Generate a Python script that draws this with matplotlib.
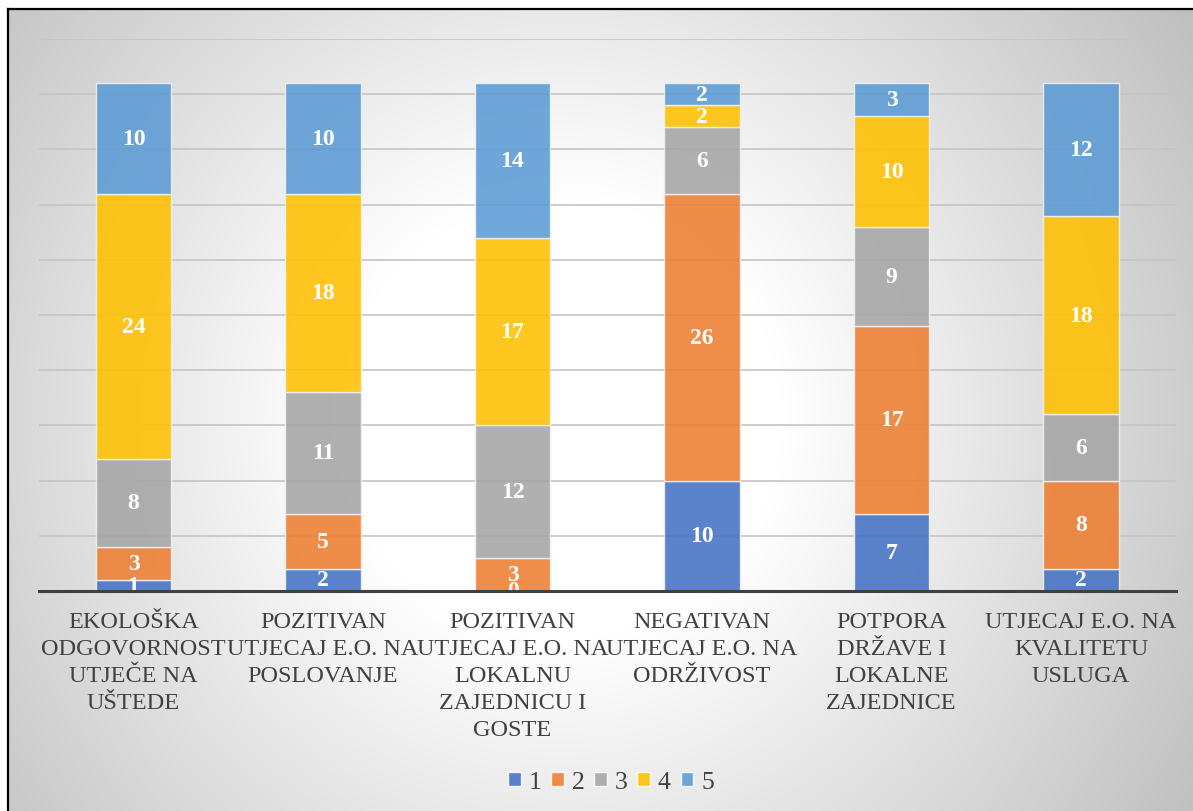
import numpy as np
import matplotlib.pyplot as plt
import matplotlib.patches as patches

plt.rcParams['font.family'] = ['Liberation Serif', 'DejaVu Serif']

# podaci
categories = [
    'EKOLOŠKA\nODGOVORNOST\nUTJEČE NA\nUŠTEDE',
    'POZITIVAN\nUTJECAJ E.O. NA\nPOSLOVANJE',
    'POZITIVAN\nUTJECAJ E.O. NA\nLOKALNU\nZAJEDNICU I\nGOSTE',
    'NEGATIVAN\nUTJECAJ E.O. NA\nODRŽIVOST',
    'POTPORA\nDRŽAVE I\nLOKALNE\nZAJEDNICE',
    'UTJECAJ E.O. NA\nKVALITETU\nUSLUGA',
]
levels = ['1', '2', '3', '4', '5']
s1 = [1, 2, 0, 10, 7, 2]
s2 = [3, 5, 3, 26, 17, 8]
s3 = [8, 11, 12, 6, 9, 6]
s4 = [24, 18, 17, 2, 10, 18]
s5 = [10, 10, 14, 2, 3, 12]
series = [s1, s2, s3, s4, s5]
colors = ['#4472C4', '#ED7D31', '#A5A5A5', '#FFC000', '#5B9BD5']

W, H = 1193, 812
fig = plt.figure(figsize=(W / 100, H / 100), dpi=100)

# pozadina s radijalnim prijelazom
bg = fig.add_axes([0, 0, 1, 1], zorder=-10)
yy, xx = np.mgrid[0:H, 0:W]
d = np.hypot(xx - 560, yy - 420)
g = 255 - 0.12 * np.clip(d - 220, 0, None)
g = np.clip(g, 192, 255) / 255
img = np.dstack([g, g, g])
img[:10, :, :] = 1
img[:, :8, :] = 1
bg.imshow(img, extent=(0, W, H, 0), aspect='auto', interpolation='bilinear')
bg.plot([8, 8], [10, H], color='black', lw=1.6)
bg.plot([8, W], [10, 10], color='black', lw=1.6)
bg.set_xlim(0, W)
bg.set_ylim(H, 0)
bg.axis('off')

ax = fig.add_axes([38.75 / W, 220 / H, 1137 / W, 552 / H])
ax.patch.set_alpha(0)

x = np.arange(len(categories))
bottom = np.zeros(len(categories))
for vals, col, lab in zip(series, colors, levels):
    vals = np.array(vals, dtype=float)
    ax.bar(x, vals, 0.4, bottom=bottom, color=col, alpha=0.88,
           edgecolor='#f2f2f2', linewidth=1.0, label=lab, zorder=2)
    for xi, v, b in zip(x, vals, bottom):
        ax.text(xi, b + v / 2, f'{int(v)}', ha='center', va='center',
                color='white', fontsize=17, fontweight='bold', zorder=3)
    bottom += vals

ax.set_xlim(-0.5, len(categories) - 0.5)
ax.set_ylim(0, 50)
ax.set_yticks(range(0, 51, 5))
ax.yaxis.grid(True, color='#c4c4c4', lw=1.2)
ax.set_axisbelow(True)
ax.tick_params(axis='y', left=False, labelleft=False)
ax.set_xticks(x)
ax.set_xticklabels(categories, fontsize=17.5, color='#404040', linespacing=1.38)
ax.tick_params(axis='x', length=0, pad=14.5)
for s in ['top', 'right', 'left']:
    ax.spines[s].set_visible(False)
ax.spines['bottom'].set_color('#404040')
ax.spines['bottom'].set_linewidth(2.2)
ax.spines['bottom'].set_zorder(4)

handles = [patches.Patch(facecolor=c, edgecolor='white', alpha=0.88) for c in colors]
fig.legend(handles, levels, loc='center', bbox_to_anchor=(0.512, (H - 783) / H),
           ncol=5, frameon=False, fontsize=18.5, handlelength=0.5, handleheight=0.5,
           handletextpad=0.3, columnspacing=0.38, labelcolor='#404040')

fig.savefig('out.png', dpi=100)
